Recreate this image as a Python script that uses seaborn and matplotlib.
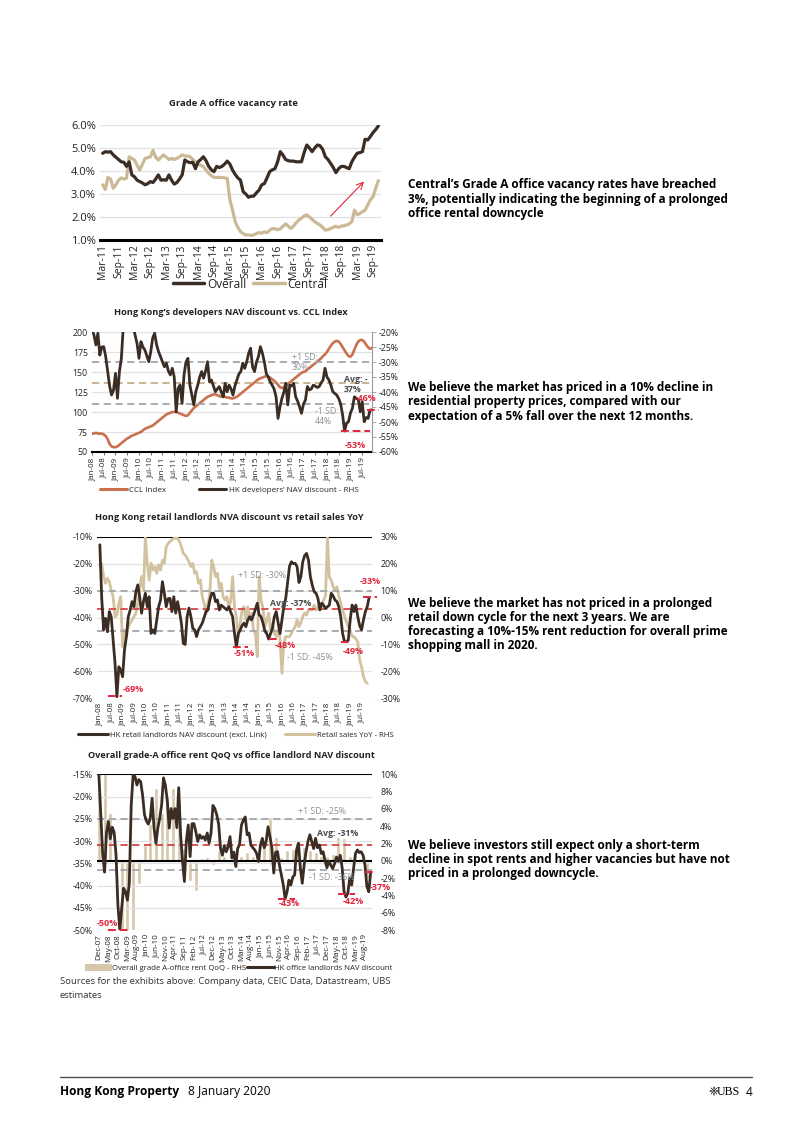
import numpy as np
import matplotlib
matplotlib.use("Agg")
import matplotlib.pyplot as plt
import seaborn as sns
from matplotlib.lines import Line2D
from matplotlib.patches import Patch

# ---------------------------------------------------------------- data
# Chart 1: Grade A office vacancy rate (%), monthly Mar-11 .. Nov-19
vac_xticklabels = ['Mar-11', 'Sep-11', 'Mar-12', 'Sep-12', 'Mar-13', 'Sep-13', 'Mar-14', 'Sep-14',
                   'Mar-15', 'Sep-15', 'Mar-16', 'Sep-16', 'Mar-17', 'Sep-17', 'Mar-18', 'Sep-18',
                   'Mar-19', 'Sep-19']
vac_yticks = [1.0, 2.0, 3.0, 4.0, 5.0, 6.0]
vac_overall = [
    4.77, 4.84, 4.82, 4.84, 4.7, 4.6, 4.5, 4.4, 4.38, 4.2,
    4.4, 3.83, 3.75, 3.6, 3.54, 3.48, 3.4, 3.45, 3.54, 3.5, 3.65, 3.83,
    3.6, 3.62, 3.6, 3.83, 3.6, 3.43, 3.5, 3.65, 3.83, 4.48, 4.4, 4.36,
    4.38, 4.1, 4.4, 4.5, 4.62, 4.45, 4.2, 4.05, 3.97, 4.2, 4.15, 4.2,
    4.3, 4.43, 4.3, 4.04, 3.85, 3.7, 3.6, 3.1, 3.0, 2.86, 2.9, 2.91,
    3.05, 3.17, 3.4, 3.45, 3.7, 3.97, 4.05, 4.1, 4.4, 4.84, 4.7, 4.5,
    4.45, 4.43, 4.43, 4.4, 4.4, 4.4, 4.8, 5.13, 5.0, 4.84, 5.0, 5.13,
    5.1, 4.94, 4.62, 4.5, 4.33, 4.15, 3.93, 4.1, 4.2, 4.2, 4.15, 4.1,
    4.4, 4.6, 4.77, 4.8, 4.84, 5.38, 5.35, 5.5, 5.67, 5.8, 5.96]
vac_central = [
    3.4, 3.2, 3.72, 3.65, 3.25, 3.4, 3.6, 3.7, 3.65, 3.68,
    4.62, 4.55, 4.48, 4.25, 4.04, 4.3, 4.55, 4.58, 4.62, 4.9, 4.6, 4.48,
    4.6, 4.7, 4.6, 4.5, 4.55, 4.5, 4.55, 4.62, 4.7, 4.65, 4.65, 4.62,
    4.5, 4.4, 4.3, 4.25, 4.19, 4.05, 3.9, 3.8, 3.72, 3.72, 3.72, 3.72,
    3.7, 3.68, 2.74, 2.3, 1.8, 1.55, 1.36, 1.28, 1.22, 1.22, 1.2, 1.22,
    1.28, 1.32, 1.3, 1.35, 1.32, 1.42, 1.5, 1.48, 1.45, 1.48, 1.6, 1.7,
    1.6, 1.5, 1.6, 1.75, 1.87, 1.95, 2.05, 2.09, 2.0, 1.9, 1.8, 1.72,
    1.65, 1.55, 1.43, 1.45, 1.5, 1.55, 1.6, 1.55, 1.6, 1.62, 1.65, 1.7,
    1.8, 2.3, 2.1, 2.15, 2.23, 2.3, 2.52, 2.75, 2.88, 3.25, 3.58]
vac_arrow_from = (86, 2.04)
vac_arrow_to = (98.6, 3.54)

# Chart 2: developers NAV discount vs CCL, monthly Jan-08 .. Dec-19
half_year_labels = ['Jan-08', 'Jul-08', 'Jan-09', 'Jul-09', 'Jan-10', 'Jul-10', 'Jan-11', 'Jul-11',
                    'Jan-12', 'Jul-12', 'Jan-13', 'Jul-13', 'Jan-14', 'Jul-14', 'Jan-15', 'Jul-15',
                    'Jan-16', 'Jul-16', 'Jan-17', 'Jul-17', 'Jan-18', 'Jul-18', 'Jan-19', 'Jul-19']
ccl_ticks = [50, 75, 100, 125, 150, 175, 200]
dev_ticks = [-60, -55, -50, -45, -40, -35, -30, -25, -20]
ccl_index = [
    73, 73, 74, 73, 73, 73, 72, 70, 66, 60, 57, 56,
    56, 57, 59, 61, 63, 65, 67, 68, 70, 71, 72, 73,
    74, 75, 77, 79, 80, 81, 82, 83, 85, 87, 89, 91,
    93, 95, 97, 98, 99, 100, 100, 100, 99, 98, 97, 96,
    95, 96, 99, 102, 105, 107, 109, 111, 113, 115, 117, 119,
    120, 121, 122, 122, 121, 120, 119, 119, 119, 118, 118, 117,
    117, 118, 119, 121, 123, 125, 127, 129, 131, 133, 135, 137,
    139, 141, 142, 143, 144, 145, 144, 143, 141, 139, 137, 134,
    131, 130, 131, 133, 135, 137, 139, 141, 143, 145, 147, 149,
    150, 151, 153, 155, 157, 159, 161, 163, 165, 167, 170, 172,
    175, 179, 183, 186, 188, 189, 188, 185, 181, 177, 173, 170,
    169, 172, 178, 184, 188, 190, 190, 188, 184, 181, 179, 180]
dev_nav = [
    -19, -21, -24.3, -20.4, -27.7, -25, -24.9, -28.2, -33.2, -38, -41, -39.3,
    -33.8, -42.1, -33.2, -28.8, -18, -12, -10, -10, -12, -18, -21, -23.8,
    -28.8, -23.2, -25, -26, -28, -29.9, -26.6, -22, -20.4, -24.3, -26.6, -28.2,
    -30, -31.6, -30.4, -33, -34.3, -32.1, -35, -46.6, -38.8, -37.7, -43.8, -34.3,
    -30, -28.8, -37.7, -41, -44.3, -39.9, -37.7, -35, -33.2, -35.4, -33, -29.9,
    -36.6, -36, -38, -39.9, -39, -38.2, -40, -41.6, -37.1, -39.9, -37.7, -39,
    -41, -38, -36, -34, -33.2, -30.4, -32.1, -30, -27.1, -25.4, -31.6, -33.2,
    -30, -28.2, -24.9, -27, -29.9, -33.8, -35, -36.6, -37.7, -39, -41.6, -48.8,
    -45, -42.1, -40, -37.1, -44.3, -37.7, -38, -37.1, -41.6, -43, -44.9, -47.1,
    -44, -42.7, -38.2, -39.3, -39, -37.7, -38, -38.5, -38.2, -37, -36, -32.1,
    -35, -36, -37.7, -39.9, -40.5, -41, -42.2, -44, -47.7, -53, -50.4, -49.9,
    -47, -45.4, -41.6, -42.1, -42.5, -46.6, -43.2, -49.9, -48.5, -48.8, -46, -46]
dev_sd_hi, dev_avg, dev_sd_lo = -30, -37, -44
dev_marks = [(-46, 140.5, 146.5), (-53, 127, 142)]

# Chart 3: retail landlords NAV discount vs retail sales YoY
ret_left_ticks = [-70, -60, -50, -40, -30, -20, -10]
ret_right_ticks = [-30, -20, -10, 0, 10, 20, 30]
retail_nav = [
    -13, -33, -44.6, -40.3, -45.3, -37.8, -39.7, -48.4, -57, -69.4, -58.3, -59.5,
    -62, -52, -47.1, -39.7, -37.2, -34.1, -36, -30.4, -27.9, -32.3, -38.4, -34.1,
    -31, -36, -32.3, -45.9, -44.6, -45.9, -40.9, -36, -33.5, -26.7, -31, -36,
    -33, -32.9, -37.8, -32.3, -38.4, -34.1, -37.8, -42.1, -49.6, -50, -39.7, -36.5,
    -39.7, -44, -44.6, -47.1, -44.6, -43.4, -42.1, -40, -37.8, -37.2, -33.5, -31,
    -31, -34.1, -33.5, -37.2, -35.4, -36, -36.6, -37.2, -36, -38, -39.7, -45.9,
    -51, -46, -44.6, -43, -42.1, -43.4, -40.9, -39.7, -40.9, -39.1, -37, -34.7,
    -39, -39.7, -42, -45, -46, -48, -46, -44, -39.7, -37.8, -42, -46,
    -41, -36, -33, -27, -21, -19.3, -20, -19.9, -21.1, -27, -24.8, -19.3,
    -17, -16.2, -18.7, -24.8, -28, -30.4, -31, -32.9, -37.2, -34.7, -35.5, -36.6,
    -36, -35.4, -31, -32, -33.5, -34.1, -36, -39.7, -45.9, -49, -49, -48.4,
    -40.9, -35.4, -37.8, -35.4, -39.7, -43, -44.6, -40.9, -37.8, -36, -32.5]
retail_yoy = [
    19.5, 20.1, 15.2, 12.7, 14.6, 13.3, 10.2, 7.7, 0.3, 0.9, 5.3, 7.7,
    -10.8, -4.6, -7.1, -3.4, -2.2, -0.9, 0.3, 1.6, 5.3, 11.4, 15.2, 10,
    30, 20.1, 13.9, 20.1, 17.6, 18.9, 16.4, 19.5, 17.6, 21.3, 20.1, 26.3,
    27.5, 28.2, 28.8, 29.4, 29.4, 29.4, 28.2, 26.3, 23.8, 23.2, 22, 20.7,
    18.9, 20.1, 16.4, 17, 12.7, 13.9, 7.7, 5.3, 1.6, 5.3, 9, 21.3,
    18.9, 15.2, 16.4, 10.8, 12.7, 7.7, 6.5, 7.7, 4, 5.9, 15.2, 4,
    0, -7.1, -2.2, 2.8, 4, -0.9, 4, -0.9, 1.6, -4.6, -6, -14.5,
    15.2, 6.5, 3.4, -3.4, -0.9, 1.6, -4.6, -2.2, -5.9, -7.1, -4.6, -8,
    -20.7, -9.6, -7.1, -7.1, -7.1, -5.9, -4.6, -3.4, -0.9, -3.4, -2, 0.3,
    1.6, 0.9, 2.8, 2.8, 2.8, 4.6, 2.8, 3.5, 5.3, 4, 6.5, 8,
    30, 15, 13.9, 11.4, 10.2, 11.4, 8, 5.3, 2.8, 0.3, -1.5, -3.4,
    -4.6, -7.1, -7.1, -8, -9, -15.8, -18.3, -22, -23.8, -24.4]
ret_sd_hi, ret_avg, ret_sd_lo = -30, -37, -45
ret_marks = [(-69, 4.5, 11.5), (-51, 70, 78), (-48, 89, 95), (-49, 127, 132), (-32.5, 139, 146)]

# Chart 4: office rent QoQ (quarterly) vs office landlord NAV discount (monthly, Dec-07 ..)
office_xticklabels = ['Dec-07', 'May-08', 'Oct-08', 'Mar-09', 'Aug-09', 'Jan-10', 'Jun-10', 'Nov-10',
                      'Apr-11', 'Sep-11', 'Feb-12', 'Jul-12', 'Dec-12', 'May-13', 'Oct-13', 'Mar-14',
                      'Aug-14', 'Jan-15', 'Jun-15', 'Nov-15', 'Apr-16', 'Sep-16', 'Feb-17', 'Jul-17',
                      'Dec-17', 'May-18', 'Oct-18', 'Mar-19', 'Aug-19']
off_left_ticks = [-50, -45, -40, -35, -30, -25, -20, -15]
off_right_ticks = [-8, -6, -4, -2, 0, 2, 4, 6, 8, 10]
rent_qoq = [8, 11, 5.5, -1.5, -9, -9, -9, -2.7, 1.8, 4.3, 8.4, 5.5,
            7.5, 8.4, 7.0, 1.5, -2.3, -3.5, 0.3, 0.4, -0.5, 1.2, 0.5, 0.2,
            -0.8, 0.6, 1.0, 0.6, 0.9, 2.0, 5.1, 2.8, 0.4, 1.2, 1.4, 2.3,
            1.6, 1.2, 1.0, 0.6, 0.5, 0.8, 2.8, 2.6, 0.6, 1.0, 0.3, -2.0]
office_nav = [
    -15.2, -24, -33, -37, -28, -25.6, -29.5, -26.9, -28, -33, -44.4, -50,
    -45, -40.6, -41.4, -43.3, -39.5, -22, -15.2, -15.5, -17.4, -16.2, -16.7, -19.7,
    -24.1, -25.5, -26.2, -25, -20.4, -27.1, -30.5, -27.1, -24.9, -21.9, -15.8, -17.5,
    -21, -27.1, -22.7, -24.9, -22.7, -27, -18, -28.6, -34.6, -39.1, -30, -26.4,
    -33.5, -26.1, -26.1, -27.9, -30.1, -28.6, -29.4, -29, -29.8, -28.2, -30.5, -28.2,
    -22, -22.7, -24.1, -26.2, -31.7, -33.2, -31, -32.4, -31.3, -29, -33.8, -32.5,
    -35.7, -31.7, -30.8, -26.4, -25.3, -24.6, -28.6, -28.2, -30.9, -31.5, -32, -32.8,
    -34.6, -30.9, -29.4, -31.5, -30.1, -26.8, -29, -31.5, -37.2, -32.5, -32.4, -35.4,
    -37.6, -39.8, -43, -41.4, -38.8, -39.9, -38.1, -37.6, -32, -30.5, -36, -39.5,
    -35.4, -32.4, -30.1, -28.6, -30.1, -31.7, -29.4, -31.5, -30.9, -32.8, -32.4, -34.5,
    -36, -34.5, -35.4, -36.2, -35.1, -33.6, -34.6, -33.2, -36, -41.4, -42.6, -41.7,
    -38.3, -39.9, -36.2, -32.8, -32, -32.6, -32.4, -33.2, -35.4, -40.2, -41.4, -37]
off_sd_hi, off_avg, off_sd_lo = -25, -31, -36.5
off_marks = [(-50, 5, 17), (-43, 94, 103), (-42, 126, 135), (-37, 140, 146)]

# ---------------------------------------------------------------- style
DARK = '#3b2d24'
BEIGE = '#cbb996'
ORANGE = '#c9704e'
SAND = '#d3c29f'
BARC = '#d6c7a8'
RED = '#e2243b'
GREYD = '#a2a6aa'
TAN = '#c7ae8c'
GRID = '#e2e2e2'
TXT = '#222222'
LBL = '#8b9096'

sns.set_theme(style='white')
plt.rcParams['font.family'] = ['Open Sans', 'DejaVu Sans']
plt.rcParams['axes.unicode_minus'] = False

W, H = 802.0, 1133.0
fig = plt.figure(figsize=(W / 100, H / 100), dpi=100)
fig.patch.set_facecolor('white')


def axes_px(l, t, r, b):
    return fig.add_axes([l / W, 1 - b / H, (r - l) / W, (b - t) / H])


def ftext(px, py, s, **kw):
    kw.setdefault('va', 'center')
    kw.setdefault('color', TXT)
    return fig.text(px / W, 1 - py / H, s, **kw)


def clean(ax):
    ax.set_xlabel('')
    ax.set_ylabel('')
    for s in ax.spines.values():
        s.set_visible(False)
    ax.grid(False)


def pct(v, dec=0):
    return f'{v:.{dec}f}%'


def marks(ax, items):
    for v, a, b in items:
        ax.hlines(v, a, b, color=RED, lw=1.4, linestyles=(0, (4, 2)), clip_on=False, zorder=6)


# ================================================================ chart 1
ax = axes_px(100, 125, 381, 240)
m = np.arange(len(vac_overall))
sns.lineplot(x=m, y=vac_central, ax=ax, color=BEIGE, linewidth=2.3)
sns.lineplot(x=m, y=vac_overall, ax=ax, color=DARK, linewidth=2.3)
clean(ax)
for v in vac_yticks[1:]:
    ax.axhline(v, color=GRID, lw=0.9, zorder=0)
ax.spines['bottom'].set_visible(True)
ax.spines['bottom'].set_color('black')
ax.spines['bottom'].set_linewidth(2.2)
ax.set_ylim(vac_yticks[0], vac_yticks[-1])
ax.set_xlim(-1, 105)
ax.set_yticks(vac_yticks)
ax.set_yticklabels([pct(v, 1) for v in vac_yticks], fontsize=8, color=TXT)
ax.set_xticks(np.arange(0, 6 * len(vac_xticklabels), 6))
ax.set_xticklabels(vac_xticklabels, rotation=90, fontsize=7.5, color=TXT)
ax.tick_params(length=0, pad=3)
ax.annotate('', xy=vac_arrow_to, xytext=vac_arrow_from,
            arrowprops=dict(arrowstyle='->', color=RED, lw=0.8, shrinkA=0, shrinkB=0))
ftext(233, 103, 'Grade A office vacancy rate', ha='center', fontsize=6.8, weight='bold')
fig.legend(handles=[Line2D([], [], color=DARK, lw=2.5), Line2D([], [], color=BEIGE, lw=2.5)],
           labels=['Overall', 'Central'], loc='center', bbox_to_anchor=(250 / W, 1 - 284 / H),
           ncol=2, frameon=False, fontsize=8.5, handlelength=2.7, columnspacing=0.6,
           handletextpad=0.2, borderpad=0, labelcolor=TXT)

# ================================================================ chart 2
ax = axes_px(92, 332, 372, 452)
axr = ax.twinx()
m = np.arange(len(ccl_index))
sns.lineplot(x=m, y=ccl_index, ax=ax, color=ORANGE, linewidth=1.9)
sns.lineplot(x=m, y=dev_nav, ax=axr, color=DARK, linewidth=2.0)
clean(ax)
clean(axr)
for v in ccl_ticks[1:]:
    ax.axhline(v, color=GRID, lw=0.9, zorder=0)
axr.axhline(dev_sd_hi, color=GREYD, lw=1.3, ls=(0, (4, 2.5)), zorder=1)
axr.axhline(dev_avg, color=TAN, lw=1.3, ls=(0, (4, 2.5)), zorder=1)
axr.axhline(dev_sd_lo, color=GREYD, lw=1.3, ls=(0, (4, 2.5)), zorder=1)
marks(axr, dev_marks)
ax.set_ylim(ccl_ticks[0], ccl_ticks[-1])
axr.set_ylim(dev_ticks[0], dev_ticks[-1])
ax.set_xlim(0, 143)
ax.spines['bottom'].set_visible(True)
ax.spines['bottom'].set_color('black')
ax.spines['bottom'].set_linewidth(1.5)
axr.spines['right'].set_visible(True)
axr.spines['right'].set_color('#9a9a9a')
axr.spines['right'].set_linewidth(0.8)
ax.set_yticks(ccl_ticks)
ax.set_yticklabels([str(v) for v in ccl_ticks], fontsize=6.3, color=TXT)
axr.set_yticks(dev_ticks)
axr.set_yticklabels([pct(v) for v in dev_ticks], fontsize=6.3, color=TXT)
ax.set_xticks(np.arange(0, 6 * len(half_year_labels), 6))
ax.set_xticklabels(half_year_labels, rotation=90, fontsize=5.8, color=TXT)
ax.tick_params(axis='y', length=0, pad=3)
ax.tick_params(axis='x', length=2, width=0.6, color='#555', pad=2, bottom=True)
axr.tick_params(axis='y', length=3, width=0.6, color='#9a9a9a', pad=2, right=True)
ftext(231, 312, 'Hong Kong\u2019s developers NAV discount vs. CCL Index', ha='center',
      fontsize=6.6, weight='bold')
ftext(292, 358, '+1 SD: -', fontsize=6.3, color=LBL)
ftext(292, 368, '30%', fontsize=6.3, color=LBL)
ftext(344, 379, 'Avg: -', fontsize=6.3, color='#4a4a4a', weight='bold')
ftext(344, 389, '37%', fontsize=6.3, color='#4a4a4a', weight='bold')
ftext(315, 412, '-1 SD:', fontsize=6.3, color=LBL)
ftext(315, 422, '44%', fontsize=6.3, color=LBL)
ftext(356, 399, '-46%', fontsize=6.3, color=RED, weight='bold', zorder=10)
ftext(345, 446, '-53%', fontsize=6.5, color=RED, weight='bold')
fig.legend(handles=[Line2D([], [], color=ORANGE, lw=2.2), Line2D([], [], color=DARK, lw=2.2)],
           labels=['CCL Index', 'HK developers\u2019 NAV discount - RHS'], loc='center',
           bbox_to_anchor=(229 / W, 1 - 490 / H), ncol=2, frameon=False, fontsize=5.8,
           handlelength=3.35, columnspacing=4.0, handletextpad=0.35, borderpad=0, labelcolor=TXT)

# ================================================================ chart 3
ax = axes_px(97, 536.7, 372, 698.3)
axr = ax.twinx()
sns.lineplot(x=np.arange(len(retail_yoy)), y=retail_yoy, ax=axr, color=SAND, linewidth=2.0)
sns.lineplot(x=np.arange(len(retail_nav)), y=retail_nav, ax=ax, color=DARK, linewidth=2.0)
ax.set_zorder(axr.get_zorder() + 1)
ax.patch.set_visible(False)
clean(ax)
clean(axr)
for v in ret_right_ticks[:-1]:
    axr.axhline(v, color=GRID, lw=0.9, zorder=0)
axr.axhline(ret_right_ticks[-1], color='black', lw=1.5, zorder=0)
ax.axhline(ret_sd_hi, color=GREYD, lw=1.3, ls=(0, (4, 2.5)), zorder=1)
ax.axhline(ret_avg, color='#d64545', lw=1.3, ls=(0, (4, 2.5)), zorder=1)
ax.axhline(ret_sd_lo, color=GREYD, lw=1.3, ls=(0, (4, 2.5)), zorder=1)
marks(ax, ret_marks)
ax.set_ylim(ret_left_ticks[0], ret_left_ticks[-1])
axr.set_ylim(ret_right_ticks[0], ret_right_ticks[-1])
ax.set_xlim(-1.5, 143.5)
ax.set_yticks(ret_left_ticks)
ax.set_yticklabels([pct(v) for v in ret_left_ticks], fontsize=6.3, color=TXT)
axr.set_yticks(ret_right_ticks)
axr.set_yticklabels([pct(v) for v in ret_right_ticks], fontsize=6.3, color=TXT)
ax.set_xticks(np.arange(0, 6 * len(half_year_labels), 6))
ax.set_xticklabels(half_year_labels, rotation=90, fontsize=5.8, color=TXT)
ax.tick_params(length=0, pad=3)
axr.tick_params(length=0, pad=6)
ftext(95, 517, 'Hong Kong retail landlords NVA discount vs retail sales YoY', ha='left',
      fontsize=6.6, weight='bold')
ftext(238, 575, '+1 SD: -30%', fontsize=6.3, color=LBL)
ftext(270, 603, 'Avg: -37%', fontsize=6.3, color='#4a4a4a', weight='bold')
ftext(287, 657, '-1 SD: -45%', fontsize=6.3, color=LBL)
for s, px, py in [('-69%', 123, 690), ('-51%', 234, 653), ('-48%', 275, 645),
                  ('-49%', 343, 651), ('-33%', 360, 582)]:
    ftext(px, py, s, fontsize=6.5, color=RED, weight='bold')
fig.legend(handles=[Line2D([], [], color=DARK, lw=2.2), Line2D([], [], color=SAND, lw=2.2)],
           labels=['HK retail landlords NAV discount (excl. Link)', 'Retail sales YoY - RHS'],
           loc='center', bbox_to_anchor=(236 / W, 1 - 735 / H), ncol=2, frameon=False,
           fontsize=5.6, handlelength=3.85, columnspacing=2.3, handletextpad=0.25, borderpad=0,
           labelcolor=TXT)

# ================================================================ chart 4
ax = axes_px(97, 774.3, 372, 930)
axr = ax.twinx()
rent_months = np.arange(0, 3 * len(rent_qoq), 3)
sns.barplot(x=rent_months, y=rent_qoq, ax=axr, native_scale=True, color=BARC, saturation=1,
            width=0.7, errorbar=None)
sns.lineplot(x=np.arange(len(office_nav)), y=office_nav, ax=ax, color=DARK, linewidth=2.0)
ax.set_zorder(axr.get_zorder() + 1)
ax.patch.set_visible(False)
clean(ax)
clean(axr)
for v in off_left_ticks[:-1]:
    ax.axhline(v, color=GRID, lw=0.9, zorder=0)
ax.axhline(off_left_ticks[-1], color='black', lw=1.5, zorder=1)
axr.axhline(0, color='black', lw=1.5, zorder=5)
ax.axhline(off_sd_hi, color=GREYD, lw=1.3, ls=(0, (4, 2.5)), zorder=1)
ax.axhline(off_avg, color='#d64545', lw=1.3, ls=(0, (4, 2.5)), zorder=1)
ax.axhline(off_sd_lo, color=GREYD, lw=1.3, ls=(0, (4, 2.5)), zorder=1)
marks(ax, off_marks)
ax.set_ylim(off_left_ticks[0], off_left_ticks[-1])
axr.set_ylim(off_right_ticks[0], off_right_ticks[-1])
ax.set_xlim(-1, 143.7)
ax.set_yticks(off_left_ticks)
ax.set_yticklabels([pct(v) for v in off_left_ticks], fontsize=6.3, color=TXT)
axr.set_yticks(off_right_ticks)
axr.set_yticklabels([pct(v) for v in off_right_ticks], fontsize=6.3, color=TXT)
ax.set_xticks(np.arange(0, 5 * len(office_xticklabels), 5))
ax.set_xticklabels(office_xticklabels, rotation=90, fontsize=5.8, color=TXT)
ax.tick_params(length=0, pad=3)
axr.tick_params(length=0, pad=6)
axr.tick_params(axis='x', labelbottom=False, labeltop=False)
ftext(88, 756, 'Overall grade-A office rent QoQ vs office landlord NAV discount', ha='left',
      fontsize=6.6, weight='bold')
ftext(298, 812, '+1 SD: -25%', fontsize=6.3, color=LBL)
ftext(317, 834, 'Avg: -31%', fontsize=6.3, color='#4a4a4a', weight='bold')
ftext(309, 877, '-1 SD: -36%', fontsize=6.3, color=LBL)
for s, px, py in [('-50%', 97, 923), ('-43%', 279, 904), ('-42%', 343, 902), ('-37%', 370, 887)]:
    ftext(px, py, s, fontsize=6.5, color=RED, weight='bold')
fig.legend(handles=[Patch(facecolor=BARC, edgecolor='none'), Line2D([], [], color=DARK, lw=2.2)],
           labels=['Overall grade A-office rent QoQ - RHS', 'HK office landlords NAV discount'],
           loc='center', bbox_to_anchor=(239 / W, 1 - 968 / H), ncol=2, frameon=False,
           fontsize=5.6, handlelength=3.4, handleheight=1.1, columnspacing=0.1,
           handletextpad=0.1, borderpad=0, labelcolor=TXT)

ftext(60, 982, 'Sources for the exhibits above: Company data, CEIC Data, Datastream, UBS',
      fontsize=6.8, color='#333333')
ftext(60, 996, 'estimates', fontsize=6.8, color='#333333')

# ---------------------------------------------------------------- commentary
notes = [
    (185, ['Central\u2019s Grade A office vacancy rates have breached',
           '3%, potentially indicating the beginning of a prolonged',
           'office rental downcycle']),
    (388, ['We believe the market has priced in a 10% decline in',
           'residential property prices, compared with our',
           'expectation of a 5% fall over the next 12 months.']),
    (603, ['We believe the market has not priced in a prolonged',
           'retail down cycle for the next 3 years. We are',
           'forecasting a 10%-15% rent reduction for overall prime',
           'shopping mall in 2020.']),
    (846, ['We believe investors still expect only a short-term',
           'decline in spot rents and higher vacancies but have not',
           'priced in a prolonged downcycle.']),
]
for top, lines in notes:
    for i, line in enumerate(lines):
        ftext(408, top + 14 * i, line, fontsize=8.45, weight='bold', color='black')

# ---------------------------------------------------------------- footer
fig.add_artist(Line2D([60 / W, 752 / W], [1 - 1077 / H] * 2, color='#4d4d4d', lw=1.0))
ftext(60, 1092, 'Hong Kong Property', fontsize=8.6, weight='bold', color='black')
ftext(188, 1092, '8 January 2020', fontsize=8.6, color='black')
ftext(752, 1092, '4', fontsize=8.6, color='black', ha='right')
ftext(740, 1092, 'UBS', fontsize=8.6, color='black', ha='right', family='Liberation Serif')
ftext(718, 1092, '\u2748', fontsize=8.6, color='black', ha='right', family='DejaVu Sans')

fig.savefig('out.png', dpi=100, facecolor='white')
